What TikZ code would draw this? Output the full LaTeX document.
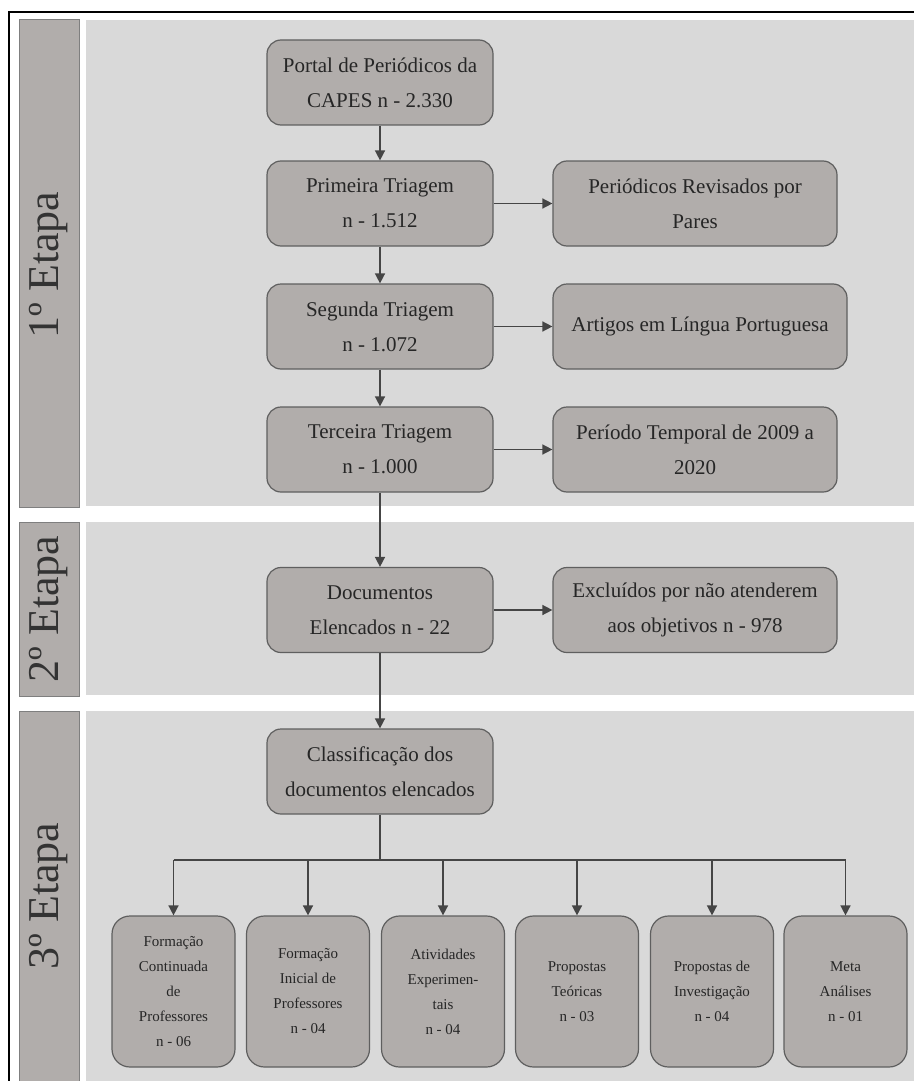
\documentclass[tikz,border=0pt]{standalone}
\usepackage{fontspec}
\setmainfont{Liberation Serif}
\usetikzlibrary{arrows.meta}

\definecolor{panelgray}{HTML}{D9D9D9}
\definecolor{boxgray}{HTML}{B1ADAB}
\definecolor{edgegray}{HTML}{5F5F5F}
\definecolor{arrowgray}{HTML}{454545}

\tikzset{
  stagebar/.style={draw=edgegray!80, fill=boxgray, line width=0.5pt},
  stagelabel/.style={rotate=90, font=\fontsize{22}{26}\selectfont, text=black!80},
  flowbox/.style={draw=edgegray, fill=boxgray, rounded corners=7pt, line width=0.6pt,
    minimum width=113pt, minimum height=42.5pt, inner sep=2pt, align=center,
    font=\fontsize{10.5}{17.5}\selectfont, text=black!85},
  sidebox/.style={flowbox, minimum width=142pt},
  leafbox/.style={flowbox, minimum width=61.5pt, minimum height=75.5pt,
    rounded corners=9pt, font=\fontsize{7.5}{12.5}\selectfont},
  flow/.style={draw=arrowgray, line width=0.75pt, -{Triangle[width=5pt,length=5pt]}},
  bus/.style={draw=arrowgray, line width=0.75pt}
}

\begin{document}
\begin{tikzpicture}[x=0.5pt,y=-0.5pt]
  \useasboundingbox (0,0) rectangle (914,1081);

  % outer frame
  \draw[line width=1.1pt] (9,1081) -- (9,12) -- (914,12);

  % stage panels
  \fill[panelgray] (86,20) rectangle (914,506);
  \fill[panelgray] (86,522) rectangle (914,695);
  \fill[panelgray] (86,711) rectangle (914,1081);

  \draw[stagebar] (19,20) rectangle (79,507);
  \draw[stagebar] (19,522) rectangle (79,696);
  \draw[stagebar] (19,711) rectangle (79,1090);

  \node[stagelabel] (etapaA) at (49,265) {1º Etapa};
  \node[stagelabel] (etapaB) at (49,609) {2º Etapa};
  \node[stagelabel] (etapaC) at (49,896) {3º Etapa};

  % 1st stage
  \node[flowbox] (portal) at (380,82.5) {Portal de Periódicos da\\CAPES n - 2.330};
  \node[flowbox] (triagemA) at (380,203.5) {Primeira Triagem\\n - 1.512};
  \node[flowbox] (triagemB) at (380,326.5) {Segunda Triagem\\n - 1.072};
  \node[flowbox] (triagemC) at (380,449.5) {Terceira Triagem\\n - 1.000};

  \node[sidebox] (pares) at (695,203.5) {Periódicos Revisados por\\Pares};
  \node[sidebox, minimum width=147pt] (lingua) at (700,326.5) {Artigos em Língua Portuguesa};
  \node[sidebox] (periodo) at (695,449.5) {Período Temporal de 2009 a\\2020};

  \draw[flow] (portal) -- (triagemA);
  \draw[flow] (triagemA) -- (triagemB);
  \draw[flow] (triagemB) -- (triagemC);
  \draw[flow] (triagemA) -- (pares);
  \draw[flow] (triagemB) -- (triagemB -| lingua.west);
  \draw[flow] (triagemC) -- (periodo);

  % 2nd stage
  \node[flowbox] (docs) at (380,610) {Documentos\\Elencados n - 22};
  \node[sidebox] (excluidos) at (695,610) {Excluídos por não atenderem\\aos objetivos n - 978};

  \draw[flow] (triagemC) -- (docs);
  \draw[flow] (docs) -- (excluidos);

  % 3rd stage
  \node[flowbox] (classif) at (380,771.5) {Classificação dos\\documentos elencados};
  \draw[flow] (docs) -- (classif);

  \node[leafbox] (contin) at (173.5,991.5) {Formação\\Continuada\\de\\Professores\\n - 06};
  \node[leafbox] (inicial) at (308,991.5) {Formação\\Inicial de\\Professores\\n - 04};
  \node[leafbox] (experim) at (443,991.5) {Atividades\\Experimen-\\tais\\n - 04};
  \node[leafbox] (teoricas) at (577,991.5) {Propostas\\Teóricas\\n - 03};
  \node[leafbox] (investig) at (712,991.5) {Propostas de\\Investigação\\n - 04};
  \node[leafbox] (meta) at (845.5,991.5) {Meta\\Análises\\n - 01};

  \coordinate (split) at (380,860);
  \draw[bus] (classif) -- (split);
  \draw[bus] (split -| contin) -- (split -| meta);
  \draw[flow] (split -| contin) -- (contin);
  \draw[flow] (split -| inicial) -- (inicial);
  \draw[flow] (split -| experim) -- (experim);
  \draw[flow] (split -| teoricas) -- (teoricas);
  \draw[flow] (split -| investig) -- (investig);
  \draw[flow] (split -| meta) -- (meta);
\end{tikzpicture}
\end{document}
